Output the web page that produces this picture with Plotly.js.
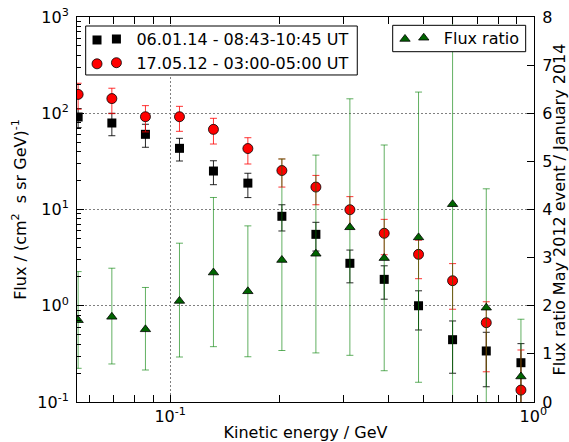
<!DOCTYPE html>
<html><head><meta charset="utf-8">
<script src="https://cdn.plot.ly/plotly-3.0.1.min.js"></script>
<style>html,body{margin:0;padding:0;background:#fff}#chart{width:569px;height:442px}</style>
</head><body><div id="chart"></div>
<script>
// Kinetic energy (GeV)
const energy = [0.0558, 0.0691, 0.0855, 0.1061, 0.1316, 0.1637, 0.2031, 0.2520, 0.3126, 0.3886, 0.4831, 0.5995, 0.7423, 0.9248];
// 06.01.14 - 08:43-10:45 UT flux, with upper and lower error limits
const janFlux = [91.4, 79.2, 60.4, 43.2, 25.1, 18.8, 8.5, 5.52, 2.76, 1.88, 1.0, 0.444, 0.339, 0.256];
const janHi   = [112, 100, 76.8, 54.9, 32.1, 23.8, 11.2, 7.36, 3.79, 2.6, 1.43, 0.695, 0.53, 0.404];
const janLo   = [71, 58.4, 44.3, 31.9, 18.1, 13.3, 5.98, 3.7, 1.73, 1.17, 0.56, 0.199, 0.144, 0.03];
// 17.05.12 - 03:00-05:00 UT flux
const mayFlux = [157, 142, 92, 92, 68, 43, 25.4, 17.1, 9.95, 5.66, 3.42, 1.82, 0.667, 0.133];
const mayHi   = [205, 182, 120, 118, 88.6, 55.7, 33.5, 22.6, 13.6, 7.9, 4.8, 2.74, 1.10, 0.347];
const mayLo   = [110, 99, 64, 64.9, 47.9, 29.7, 17.1, 11.2, 6.3, 3.39, 1.91, 0.92, 0.206, 0.02];
// Flux ratio May 2012 / January 2014
const ratio   = [1.70, 1.77, 1.51, 2.10, 2.69, 2.30, 2.95, 3.08, 3.63, 2.99, 3.42, 4.11, 1.96, 0.53];
const ratioHi = [2.71, 2.78, 2.38, 3.30, 4.25, 3.66, 5.05, 5.13, 6.3, 5.34, 6.44, 9.0, 4.43, 1.72];
const ratioLo = [0.70, 0.79, 0.665, 0.935, 1.15, 0.94, 1.07, 1.02, 0.97, 0.65, 0.41, -0.5, -0.5, -0.6];

const xTickVals = [0.1, 1];
const xTickText = ['10<sup>-1</sup>', '10<sup>0</sup>'];
const yTickVals = [0.1, 1, 10, 100, 1000];
const yTickText = ['10<sup>-1</sup>', '10<sup>0</sup>', '10<sup>1</sup>', '10<sup>2</sup>', '10<sup>3</sup>'];
const y2TickVals = [0, 1, 2, 3, 4, 5, 6, 7, 8];

const plus = (v, hi) => hi.map((h, i) => h - v[i]);
const minus = (v, lo) => lo.map((l, i) => v[i] - l);

const minorLog = (a, b) => { const o = []; for (let e = a; e < b; e++) for (let d = 2; d <= 9; d++) o.push(d * Math.pow(10, e)); return o; };

const FONT = 'DejaVu Sans, Liberation Sans, sans-serif';

const janMarker = {symbol: 'square', size: 9, color: 'black', line: {width: 0}};
const mayMarker = {symbol: 'circle', size: 10, color: 'red', line: {width: 0.8, color: 'black'}};
const ratioMarker = {symbol: 'triangle-up', size: 9, color: '#006400', line: {width: 0.8, color: 'black'}};

const traces = [
  {
    x: energy, y: janFlux, type: 'scatter', mode: 'markers', name: '06.01.14 - 08:43-10:45 UT',
    legend: 'legend', marker: janMarker,
    error_y: {type: 'data', symmetric: false, array: plus(janFlux, janHi), arrayminus: minus(janFlux, janLo),
              color: 'rgba(0,0,0,0.85)', thickness: 1, width: 3.5}
  },
  {
    x: energy, y: mayFlux, type: 'scatter', mode: 'markers', name: '17.05.12 - 03:00-05:00 UT',
    legend: 'legend', marker: mayMarker,
    error_y: {type: 'data', symmetric: false, array: plus(mayFlux, mayHi), arrayminus: minus(mayFlux, mayLo),
              color: 'rgba(255,0,0,0.8)', thickness: 1, width: 3.5}
  },
  {
    x: energy, y: ratio, type: 'scatter', mode: 'markers', name: 'Flux ratio', yaxis: 'y2',
    legend: 'legend2', marker: ratioMarker,
    error_y: {type: 'data', symmetric: false, array: plus(ratio, ratioHi), arrayminus: minus(ratio, ratioLo),
              color: 'rgba(0,128,0,0.62)', thickness: 1, width: 3.5}
  }
];

// legend frames and the second legend marker (matplotlib shows two points per entry)
const shapes = [
  {type: 'rect', xref: 'paper', yref: 'paper', x0: 0.019, x1: 0.6133, y0: 0.8494, y1: 0.9766,
   fillcolor: 'white', line: {color: 'black', width: 1}, layer: 'above'},
  {type: 'rect', xref: 'paper', yref: 'paper', x0: 0.6908, x1: 0.9818, y0: 0.9099, y1: 0.9784,
   fillcolor: 'white', line: {color: 'black', width: 1}, layer: 'above'},
  {type: 'rect', xref: 'paper', yref: 'paper', xsizemode: 'pixel', ysizemode: 'pixel',
   xanchor: 0.0438, yanchor: 0.9403, x0: -4.5, x1: 4.5, y0: -4.5, y1: 4.5,
   fillcolor: 'black', line: {width: 0}, layer: 'above'},
  {type: 'circle', xref: 'paper', yref: 'paper', xsizemode: 'pixel', ysizemode: 'pixel',
   xanchor: 0.0438, yanchor: 0.8784, x0: -5, x1: 5, y0: -5, y1: 5,
   fillcolor: 'red', line: {width: 0.8, color: 'black'}, layer: 'above'},
  {type: 'path', xref: 'paper', yref: 'paper', xsizemode: 'pixel', ysizemode: 'pixel',
   xanchor: 0.7177, yanchor: 0.9429, path: 'M-5.2,-2.25 L5.2,-2.25 L0,4.5 Z',
   fillcolor: '#006400', line: {width: 0.8, color: 'black'}, layer: 'above'}
];

const layout = {
  width: 569, height: 442,
  margin: {l: 77, r: 35, t: 17, b: 40, pad: 0},
  paper_bgcolor: 'white', plot_bgcolor: 'white',
  font: {family: FONT, size: 16, color: 'black'},
  showlegend: true,
  shapes: shapes,
  xaxis: {
    type: 'log', range: [-1.2565, 0.002], tickmode: 'array', tickvals: xTickVals, ticktext: xTickText,
    ticks: 'inside', ticklen: 7, tickcolor: 'black', tickwidth: 1,
    showline: true, linecolor: 'black', linewidth: 1, mirror: 'allticks',
    showgrid: true, gridcolor: '#808080', gridwidth: 1, griddash: '2px,2px', zeroline: false,
    minor: {tickmode: 'array', tickvals: minorLog(-2, 0), ticks: 'inside', ticklen: 4, tickcolor: 'black', showgrid: false},
    tickfont: {size: 16},
    title: {text: 'Kinetic energy / GeV', font: {size: 16}, standoff: 4},
    automargin: false
  },
  yaxis: {
    type: 'log', range: [-1, 3], tickmode: 'array', tickvals: yTickVals, ticktext: yTickText,
    ticks: 'inside', ticklen: 7, tickcolor: 'black', tickwidth: 1,
    showline: true, linecolor: 'black', linewidth: 1,
    showgrid: true, gridcolor: '#808080', gridwidth: 1, griddash: '2px,2px', zeroline: false,
    minor: {tickmode: 'array', tickvals: minorLog(-1, 3), ticks: 'inside', ticklen: 4, tickcolor: 'black', showgrid: false},
    tickfont: {size: 16}, ticklabelstandoff: 4,
    title: {text: 'Flux / (cm<sup>2</sup>  s sr GeV)<sup>-1</sup>', font: {size: 16}, standoff: 6},
    automargin: false
  },
  yaxis2: {
    overlaying: 'y', side: 'right', range: [0, 8], tickmode: 'array', tickvals: y2TickVals,
    ticks: 'inside', ticklen: 7, tickcolor: 'black', tickwidth: 1,
    showline: true, linecolor: 'black', linewidth: 1, showgrid: false, zeroline: false,
    tickfont: {size: 16}, ticklabelstandoff: 4,
    title: {text: 'Flux ratio May 2012 event / January 2014', font: {size: 16}, standoff: 7},
    automargin: false
  },
  legend: {
    x: 0.0425, y: 0.987, xanchor: 'left', yanchor: 'top',
    bgcolor: 'rgba(0,0,0,0)', borderwidth: 0,
    font: {size: 16}, itemwidth: 30, tracegroupgap: 0
  },
  legend2: {
    x: 0.715, y: 0.99, xanchor: 'left', yanchor: 'top',
    bgcolor: 'rgba(0,0,0,0)', borderwidth: 0,
    font: {size: 16}, itemwidth: 30, tracegroupgap: 0
  }
};

Plotly.newPlot('chart', traces, layout, {displayModeBar: false, staticPlot: true});
</script>
</body></html>
